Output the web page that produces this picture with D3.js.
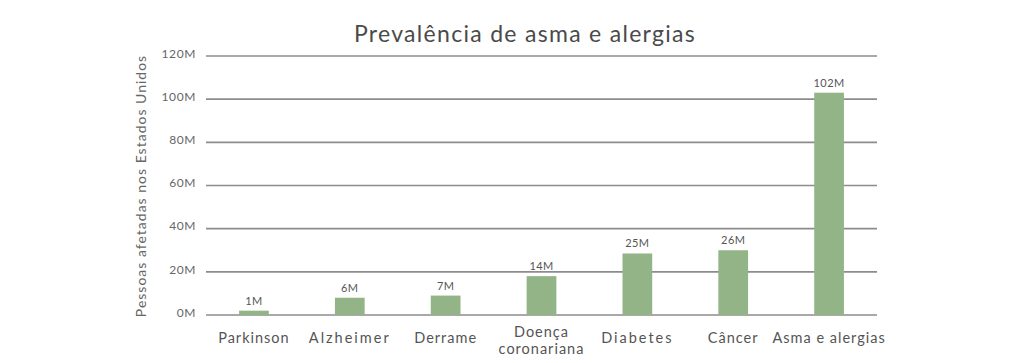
<!DOCTYPE html>
<html><head><meta charset="utf-8">
<script src="https://cdn.jsdelivr.net/npm/d3@7"></script>
<style>html,body{margin:0;padding:0;background:#fff;}svg{display:block;}</style>
</head><body>
<svg id="chart" width="1024" height="363"></svg>
<script>
const categories = ["Parkinson", "Alzheimer", "Derrame", "Doença coronariana", "Diabetes", "Câncer", "Asma e alergias"];
const categoryLines = [["Parkinson"], ["Alzheimer"], ["Derrame"], ["Doença", "coronariana"], ["Diabetes"], ["Câncer"], ["Asma e alergias"]];
const barValues = [2, 8, 9, 18, 28.5, 30, 103];
const valueLabels = ["1M", "6M", "7M", "14M", "25M", "26M", "102M"];
const yTicks = [0, 20, 40, 60, 80, 100, 120];
const title = "Prevalência de asma e alergias";
const yTitle = "Pessoas afetadas nos Estados Unidos";

const svg = d3.select("#chart");
const font = "Lato, 'Noto Sans', sans-serif";
const x = d3.scaleBand().domain(categories).range([206, 877]).paddingInner(0.69).paddingOuter(0.345);
const y = d3.scaleLinear().domain([0, 120]).range([315, 56]);

svg.append("text").attr("x", 525).attr("y", 42).attr("text-anchor", "middle")
  .attr("font-family", font).attr("font-size", 23).attr("fill", "#4a4a4a").attr("letter-spacing", 1.3).text(title);

// grid
svg.append("g").selectAll("line").data(yTicks).join("line")
  .attr("x1", 206).attr("x2", 877).attr("y1", d => y(d)).attr("y2", d => y(d))
  .attr("stroke", "#8c8c8c").attr("stroke-width", 1.6);

// y axis labels via axis
const yAxis = svg.append("g").attr("transform", "translate(196,0)")
  .call(d3.axisLeft(y).tickValues(yTicks).tickSize(0).tickPadding(0).tickFormat(d => d + "M"));
yAxis.select(".domain").remove();
yAxis.selectAll("text").attr("font-family", font).attr("font-size", 12).attr("fill", "#666").attr("letter-spacing", 0.6).attr("dy", "0.1em");

svg.append("text").attr("transform", "translate(146,186) rotate(-90)").attr("text-anchor", "middle")
  .attr("font-family", font).attr("font-size", 14).attr("fill", "#666").attr("letter-spacing", 1).text(yTitle);

// bars
svg.append("g").selectAll("rect").data(categories).join("rect")
  .attr("x", d => x(d)).attr("width", x.bandwidth())
  .attr("y", (d, i) => y(barValues[i])).attr("height", (d, i) => y(0) - y(barValues[i]))
  .attr("fill", "#93b486");

// value labels
svg.append("g").selectAll("text").data(categories).join("text")
  .attr("x", d => x(d) + x.bandwidth() / 2).attr("y", (d, i) => y(barValues[i]) - 6)
  .attr("text-anchor", "middle").attr("font-family", font).attr("font-size", 11).attr("fill", "#555")
  .attr("letter-spacing", 0.4).text((d, i) => valueLabels[i]);

// category labels
const xl = svg.append("g");
categories.forEach((c, i) => {
  const lines = categoryLines[i];
  const t = xl.append("text").attr("text-anchor", "middle").attr("font-family", font).attr("font-size", 14.5)
    .attr("fill", "#555").attr("letter-spacing", c === "Alzheimer" || c === "Diabetes" ? 2 : 1);
  const y0 = lines.length > 1 ? 337 : 343;
  lines.forEach((l, j) => t.append("tspan").attr("x", x(c) + x.bandwidth() / 2).attr("y", y0 + j * 17).text(l));
});
</script>
</body></html>
